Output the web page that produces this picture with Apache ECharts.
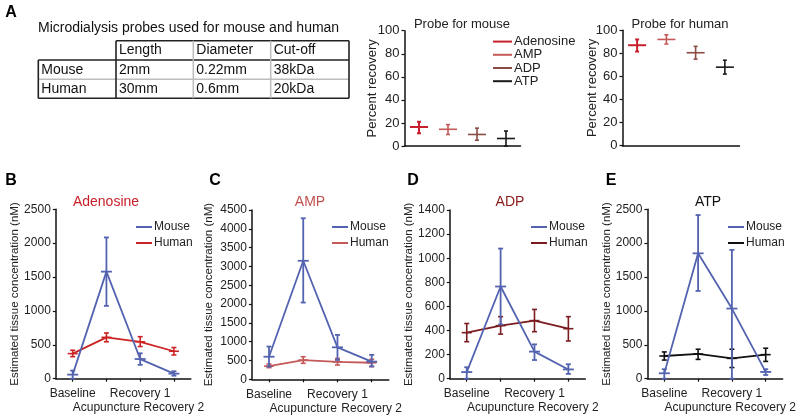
<!DOCTYPE html>
<html><head><meta charset="utf-8">
<script src="https://cdn.jsdelivr.net/npm/echarts@6/dist/echarts.min.js"></script>
<style>html,body{margin:0;padding:0;background:#fff}#c{width:800px;height:419px}</style>
</head><body><div id="c"></div>
<script>
// ---------- DATA ----------
const probeCompounds = ['Adenosine', 'AMP', 'ADP', 'ATP'];
const probeMouseMean = [16.5, 14.5, 10, 6.5];
const probeMouseLow  = [11, 10, 5, 0];
const probeMouseHigh = [21, 18.5, 15.5, 13];
const probeHumanMean = [87, 92, 80.5, 68];
const probeHumanLow  = [81.5, 88, 75, 62];
const probeHumanHigh = [92, 96, 86, 74];

const phases = ['Baseline', 'Acupuncture', 'Recovery 1', 'Recovery 2'];

const adoMouseMean = [60, 1580, 290, 75];
const adoMouseLow  = [0, 1075, 205, 45];
const adoMouseHigh = [120, 2085, 375, 110];
const adoHumanMean = [370, 610, 545, 405];
const adoHumanLow  = [325, 545, 475, 350];
const adoHumanHigh = [420, 675, 620, 460];

const ampMouseMean = [600, 3150, 850, 470];
const ampMouseLow  = [340, 2040, 515, 340];
const ampMouseHigh = [870, 4280, 1180, 650];
const ampHumanMean = [350, 510, 465, 440];
const ampHumanLow  = [310, 425, 380, 340];
const ampHumanHigh = [405, 600, 555, 530];

const adpMouseMean = [55, 765, 225, 77];
const adpMouseLow  = [0, 450, 155, 40];
const adpMouseHigh = [95, 1080, 285, 120];
const adpHumanMean = [382, 440, 482, 415];
const adpHumanLow  = [307, 370, 390, 313];
const adpHumanHigh = [458, 515, 575, 515];

const atpMouseMean = [80, 1850, 1035, 100];
const atpMouseLow  = [0, 1295, 0, 55];
const atpMouseHigh = [140, 2415, 1900, 140];
const atpHumanMean = [335, 365, 300, 355];
const atpHumanLow  = [275, 285, 165, 255];
const atpHumanHigh = [395, 435, 435, 450];

const tableTitle = 'Microdialysis probes used for mouse and human';
const tableHeader = ['Length', 'Diameter', 'Cut-off'];
const tableRowNames = ['Mouse', 'Human'];
const tableCells = [['2mm', '0.22mm', '38kDa'], ['30mm', '0.6mm', '20kDa']];

// ---------- STYLE ----------
const fR = "'Liberation Sans', Arial, Helvetica, sans-serif";
const fN = "'Liberation Sans Narrow', 'Arial Narrow', 'Liberation Sans', Arial, sans-serif";
const cMouse = '#5363b0';
const compColors = ['#c8202c', '#c65a58', '#8a4c44', '#1a1a1a'];
const humanColors = ['#cc2424', '#c4595a', '#7b1c20', '#111111'];
const titleColors = ['#c8202a', '#c0504d', '#8b1a1a', '#111111'];

function errRender(color, lw, capW, dashW) {
  return function (params, api) {
    const x = api.value(0);
    const pm = api.coord([x, api.value(1)]);
    const pl = api.coord([x, api.value(2)]);
    const ph = api.coord([x, api.value(3)]);
    const st = { stroke: color, lineWidth: lw };
    return { type: 'group', children: [
      { type: 'line', shape: { x1: pl[0], y1: pl[1], x2: ph[0], y2: ph[1] }, style: st },
      { type: 'line', shape: { x1: pl[0] - capW / 2, y1: pl[1], x2: pl[0] + capW / 2, y2: pl[1] }, style: st },
      { type: 'line', shape: { x1: ph[0] - capW / 2, y1: ph[1], x2: ph[0] + capW / 2, y2: ph[1] }, style: st },
      { type: 'line', shape: { x1: pm[0] - dashW / 2, y1: pm[1], x2: pm[0] + dashW / 2, y2: pm[1] }, style: st }
    ]};
  };
}
function zip(m, l, h) { return m.map((v, i) => [i, v, l[i], h[i]]); }

const grids = [], xAxes = [], yAxes = [], series = [], legends = [], graphics = [];

// top probe panels
const topPanels = [
  { left: 404.5, top: 30.7, bottom: 146, width: 116, mean: probeMouseMean, low: probeMouseLow, high: probeMouseHigh, nameGap: 26, tag: 'm' },
  { left: 622.5, top: 30.2, bottom: 145.7, width: 117, mean: probeHumanMean, low: probeHumanLow, high: probeHumanHigh, nameGap: 24, tag: 'h' }
];
topPanels.forEach((p, gi) => {
  grids.push({ left: p.left, top: p.top, width: p.width, height: p.bottom - p.top });
  xAxes.push({ gridIndex: gi, type: 'category', data: probeCompounds, boundaryGap: true,
    axisLine: { lineStyle: { color: '#111', width: 1.5 } }, axisTick: { show: false }, axisLabel: { show: false }, splitLine: { show: false } });
  yAxes.push({ gridIndex: gi, type: 'value', min: 0, max: 100, interval: 20,
    name: 'Percent recovery', nameLocation: 'middle', nameGap: p.nameGap, nameMoveOverlap: false,
    nameTextStyle: { fontFamily: fR, fontSize: 13, color: '#222' },
    axisLine: { show: true, lineStyle: { color: '#111', width: 1.5 } },
    axisTick: { show: true, length: 3, lineStyle: { color: '#111', width: 1.2 } },
    axisLabel: { fontFamily: fR, fontSize: 13, color: '#222', margin: 5, formatter: v => String(v) }, splitLine: { show: false } });
  probeCompounds.forEach((c, i) => {
    series.push({ type: 'custom', name: p.tag === 'm' ? c : c + '|h', xAxisIndex: gi, yAxisIndex: gi,
      itemStyle: { color: compColors[i] },
      renderItem: errRender(compColors[i], i === 0 ? 2 : 1.6, 4, 18),
      data: [[i, p.mean[i], p.low[i], p.high[i]]] });
  });
});
legends.push({ orient: 'vertical', left: 493, top: 35, padding: 0, itemGap: 0, itemWidth: 19, itemHeight: 2, icon: 'rect',
  data: probeCompounds, selectedMode: false,
  textStyle: { fontFamily: fR, fontSize: 13, color: '#222', lineHeight: 13.2, padding: [0, 0, 0, -3] } });

// bottom panels
const botPanels = [
  { key: 'B', title: 'Adenosine', titleX: 106, left: 55.8, width: 135, top: 209.3, bottom: 378.7, max: 2500, interval: 500,
    mm: adoMouseMean, ml: adoMouseLow, mh: adoMouseHigh, hm: adoHumanMean, hl: adoHumanLow, hh: adoHumanHigh, nameGap: 35, legX: 136, letterX: 11 },
  { key: 'C', title: 'AMP', titleX: 310, left: 251.9, width: 136.9, top: 210, bottom: 379.3, max: 4500, interval: 500,
    mm: ampMouseMean, ml: ampMouseLow, mh: ampMouseHigh, hm: ampHumanMean, hl: ampHumanLow, hh: ampHumanHigh, nameGap: 37, legX: 332, letterX: 215 },
  { key: 'D', title: 'ADP', titleX: 510, left: 449.8, width: 135.5, top: 210, bottom: 378.7, max: 1400, interval: 200,
    mm: adpMouseMean, ml: adpMouseLow, mh: adpMouseHigh, hm: adpHumanMean, hl: adpHumanLow, hh: adpHumanHigh, nameGap: 35, legX: 531, letterX: 413 },
  { key: 'E', title: 'ATP', titleX: 708, left: 647.4, width: 135.2, top: 209.3, bottom: 378.7, max: 2500, interval: 500,
    mm: atpMouseMean, ml: atpMouseLow, mh: atpMouseHigh, hm: atpHumanMean, hl: atpHumanLow, hh: atpHumanHigh, nameGap: 35, legX: 728, letterX: 611 }
];
botPanels.forEach((p, k) => {
  const gi = k + 2;
  grids.push({ left: p.left, top: p.top, width: p.width, height: p.bottom - p.top });
  xAxes.push({ gridIndex: gi, type: 'category', data: phases, boundaryGap: true,
    axisLine: { lineStyle: { color: '#111', width: 1.5 } },
    axisTick: { show: true, alignWithLabel: true, length: 3, lineStyle: { color: '#111', width: 1.2 } },
    axisLabel: { interval: 0, fontFamily: fR, fontSize: 12, color: '#222', lineHeight: 14, margin: 8,
      hideOverlap: false, formatter: (v, i) => (i % 2 ? '\n' + v : v) }, splitLine: { show: false } });
  yAxes.push({ gridIndex: gi, type: 'value', min: 0, max: p.max, interval: p.interval,
    name: 'Estimated tissue concentration (nM)', nameLocation: 'middle', nameGap: p.nameGap, nameMoveOverlap: false,
    nameTextStyle: { fontFamily: fR, fontSize: 11.5, color: '#222' },
    axisLine: { show: true, lineStyle: { color: '#111', width: 1.5 } },
    axisTick: { show: true, length: 3, lineStyle: { color: '#111', width: 1.2 } },
    axisLabel: { fontFamily: fN, fontSize: 12, color: '#222', margin: 5, formatter: v => String(v) }, splitLine: { show: false } });
  const mName = 'Mouse|' + p.key, hName = 'Human|' + p.key;
  series.push({ type: 'line', name: mName, xAxisIndex: gi, yAxisIndex: gi, data: p.mm, symbol: 'none',
    lineStyle: { color: cMouse, width: 1.8 }, itemStyle: { color: cMouse }, z: 3 });
  series.push({ type: 'line', name: hName, xAxisIndex: gi, yAxisIndex: gi, data: p.hm, symbol: 'none',
    lineStyle: { color: humanColors[k], width: 1.8 }, itemStyle: { color: humanColors[k] }, z: 2 });
  series.push({ type: 'custom', name: hName, xAxisIndex: gi, yAxisIndex: gi, z: 2,
    renderItem: errRender(humanColors[k], 1.6, 5, 10), data: zip(p.hm, p.hl, p.hh) });
  series.push({ type: 'custom', name: mName, xAxisIndex: gi, yAxisIndex: gi, z: 3,
    renderItem: errRender(cMouse, 1.8, 5, 11), data: zip(p.mm, p.ml, p.mh) });
  legends.push({ orient: 'vertical', left: p.legX, top: 220, padding: 0, itemGap: 2, itemWidth: 16, itemHeight: 2, icon: 'rect',
    selectedMode: false, data: [mName, hName], formatter: n => n.split('|')[0],
    textStyle: { fontFamily: fR, fontSize: 12, color: '#222', lineHeight: 14, padding: [0, 0, 0, -3] } });
  graphics.push({ type: 'text', x: p.titleX, y: 202, style: { text: p.title, fill: titleColors[k], font: '14px ' + fN, textAlign: 'center', textVerticalAlign: 'middle' } });
  graphics.push({ type: 'text', x: p.letterX, y: 181, style: { text: p.key, fill: '#000', font: 'bold 16px ' + fR, textAlign: 'center', textVerticalAlign: 'middle' } });
});

// top titles
graphics.push({ type: 'text', x: 462, y: 24, style: { text: 'Probe for mouse', fill: '#222', font: '13px ' + fR, textAlign: 'center', textVerticalAlign: 'middle' } });
graphics.push({ type: 'text', x: 680, y: 24, style: { text: 'Probe for human', fill: '#222', font: '13px ' + fR, textAlign: 'center', textVerticalAlign: 'middle' } });
graphics.push({ type: 'text', x: 11, y: 13, style: { text: 'A', fill: '#000', font: 'bold 16px ' + fR, textAlign: 'center', textVerticalAlign: 'middle' } });

// table
graphics.push({ type: 'text', x: 38, y: 28.5, style: { text: tableTitle, fill: '#111', font: '14px ' + fR, textAlign: 'left', textVerticalAlign: 'middle' } });
const colX = [38.3, 116, 193.3, 270.7, 349];
const rowY = [40.7, 60, 79.3, 98.3];
function L(x1, y1, x2, y2, c, w) { graphics.push({ type: 'line', shape: { x1, y1, x2, y2 }, style: { stroke: c, lineWidth: w } }); }
L(colX[1], rowY[0], colX[4], rowY[0], '#222', 1.6);
L(colX[0], rowY[1], colX[4], rowY[1], '#222', 1.6);
L(colX[0], rowY[2], colX[4], rowY[2], '#bdbdbd', 1.5);
L(colX[0], rowY[3], colX[4], rowY[3], '#222', 1.6);
L(colX[0], rowY[1], colX[0], rowY[3], '#222', 1.6);
L(colX[1], rowY[0], colX[1], rowY[3], '#222', 1.6);
L(colX[2], rowY[0], colX[2], rowY[3], '#bdbdbd', 1.5);
L(colX[3], rowY[0], colX[3], rowY[3], '#bdbdbd', 1.5);
L(colX[4], rowY[0], colX[4], rowY[3], '#222', 1.6);
tableHeader.forEach((h, j) => graphics.push({ type: 'text', x: colX[j + 1] + 3, y: (rowY[0] + rowY[1]) / 2, style: { text: h, fill: '#111', font: '14px ' + fR, textVerticalAlign: 'middle' } }));
tableRowNames.forEach((r, i) => {
  const cy = (rowY[i + 1] + rowY[i + 2]) / 2;
  graphics.push({ type: 'text', x: colX[0] + 3, y: cy, style: { text: r, fill: '#111', font: '14px ' + fR, textVerticalAlign: 'middle' } });
  tableCells[i].forEach((t, j) => graphics.push({ type: 'text', x: colX[j + 1] + 3, y: cy, style: { text: t, fill: '#111', font: '14px ' + fR, textVerticalAlign: 'middle' } }));
});

const chart = echarts.init(document.getElementById('c'), null, { renderer: 'canvas' });
chart.setOption({
  animation: false,
  backgroundColor: '#fff',
  grid: grids, xAxis: xAxes, yAxis: yAxes, series: series, legend: legends, graphic: graphics
});
</script></body></html>
